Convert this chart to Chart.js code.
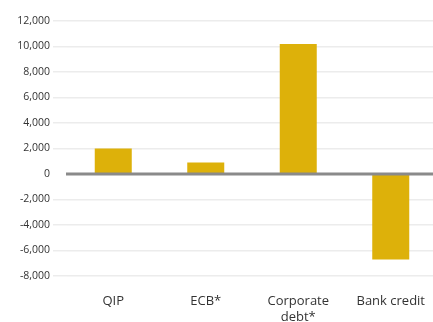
<!DOCTYPE html>
<html><head><meta charset="utf-8">
<script src="https://cdn.jsdelivr.net/npm/chart.js"></script>
<style>html,body{margin:0;padding:0;overflow:hidden;background:#fff;width:433px;height:322px}
#wrap{width:437px;height:322px;position:relative}</style>
</head><body><div id="wrap"><canvas id="c"></canvas></div>
<script>
const categories = ["QIP", "ECB*", ["Corporate", "debt*"], "Bank credit"];
const values = [2000, 900, 10200, -6700];
const yTicks = [12000, 10000, 8000, 6000, 4000, 2000, 0, -2000, -4000, -6000, -8000];

const zeroLine = {
  id: 'zeroLine',
  afterDatasetsDraw(chart) {
    const y = chart.scales.y.getPixelForValue(0);
    const ctx = chart.ctx;
    ctx.save();
    ctx.strokeStyle = '#8a8a8a';
    ctx.lineWidth = 3;
    ctx.beginPath();
    ctx.moveTo(chart.chartArea.left - 1, y);
    ctx.lineTo(chart.chartArea.right, y);
    ctx.stroke();
    ctx.restore();
  }
};

new Chart(document.getElementById('c'), {
  type: 'bar',
  data: { labels: categories, datasets: [{ data: values, backgroundColor: '#DDB10A', barPercentage: 0.4, categoryPercentage: 1 }] },
  options: {
    responsive: true, maintainAspectRatio: false, animation: false,
    layout: { padding: { top: 21, right: 0, bottom: 0, left: 0 } },
    plugins: { legend: { display: false }, tooltip: { enabled: false } },
    scales: {
      x: {
        afterFit: s => { s.height = 46; },
        grid: { display: false },
        border: { display: false },
        ticks: { color: '#333', font: { family: 'Open Sans', size: 13, lineHeight: 1.18 }, maxRotation: 0, padding: 10 }
      },
      y: {
        min: -8000, max: 12000,
        afterBuildTicks: s => { s.ticks = yTicks.map(v => ({ value: v })); },
        afterFit: s => { s.width = 67; },
        border: { display: false },
        grid: {
          color: c => c.tick && c.tick.value === 0 ? 'rgba(0,0,0,0)' : '#ececec',
          lineWidth: 1.5,
          tickColor: c => c.tick && c.tick.value === 0 ? 'rgba(0,0,0,0)' : '#ececec',
          tickWidth: 1.5,
          tickLength: 14
        },
        ticks: { color: '#333', font: { family: 'Open Sans', size: 10.5 }, padding: 3,
          callback: v => v.toLocaleString('en-US') }
      }
    }
  },
  plugins: [zeroLine]
});
</script></body></html>
